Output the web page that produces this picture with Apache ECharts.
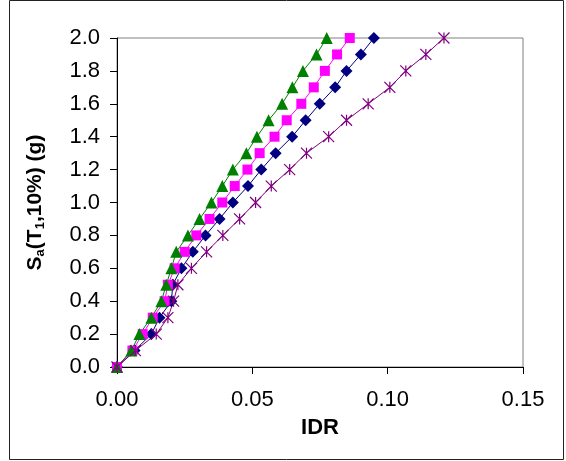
<!DOCTYPE html>
<html>
<head>
<meta charset="utf-8">
<script src="https://cdn.jsdelivr.net/npm/echarts@6/dist/echarts.min.js"></script>
<style>
html,body{margin:0;padding:0;background:#fff;}
#chart{width:566px;height:461px;}
</style>
</head>
<body>
<div id="chart"></div>
<script>
// Sa(T1,10%) levels (g)
var saLevels = [0.0,0.1,0.2,0.3,0.4,0.5,0.6,0.7,0.8,0.9,1.0,1.1,1.2,1.3,1.4,1.5,1.6,1.7,1.8,1.9,2.0];
// IDR values per series
var idrNavy = [0, 0.0065, 0.0127, 0.0157, 0.0201, 0.0206, 0.0238, 0.0280, 0.0327, 0.0379, 0.0428, 0.0484, 0.0533, 0.0586, 0.0647, 0.0697, 0.0749, 0.0806, 0.0848, 0.0901, 0.0949];
var idrMagenta = [0, 0.0057, 0.0095, 0.0132, 0.0176, 0.0188, 0.0213, 0.0250, 0.0293, 0.0342, 0.0389, 0.0435, 0.0482, 0.0527, 0.0582, 0.0627, 0.0681, 0.0727, 0.0768, 0.0813, 0.0860];
var idrGreen = [0, 0.0053, 0.0083, 0.0127, 0.0164, 0.0182, 0.0201, 0.0219, 0.0262, 0.0305, 0.0349, 0.0389, 0.0428, 0.0478, 0.0517, 0.0560, 0.0610, 0.0648, 0.0687, 0.0737, 0.0775];
var idrPurple = [0, 0.0068, 0.0145, 0.0188, 0.0209, 0.0225, 0.0275, 0.0331, 0.0391, 0.0453, 0.0512, 0.0570, 0.0638, 0.0700, 0.0782, 0.0848, 0.0928, 0.1008, 0.1067, 0.1141, 0.1208];
var xTickLabels = ['0.00','0.05','0.10','0.15'];
var yTickLabels = ['0.0','0.2','0.4','0.6','0.8','1.0','1.2','1.4','1.6','1.8','2.0'];

function pairs(xs){ return xs.map(function(v,i){ return [v, saLevels[i]]; }); }

var FONT = 'Liberation Sans, Arial, sans-serif';
var chart = echarts.init(document.getElementById('chart'), null, {renderer:'canvas'});

function mkSeries(name, xs, color, symbol, size, extra){
  var s = {
    name: name, type: 'line', data: pairs(xs),
    symbol: symbol, symbolSize: size, showAllSymbol: true,
    lineStyle: {color: color, width: 1},
    itemStyle: {color: color, borderWidth: 0, opacity: 1},
    animation: false, silent: true
  };
  if (extra) { for (var k in extra) s[k] = extra[k]; }
  return s;
}

chart.setOption({
  backgroundColor: '#fff',
  animation: false,
  grid: {left: 117, right: 43, top: 38, bottom: 94, show: true, borderColor: '#808080', borderWidth: 1, backgroundColor: 'transparent'},
  graphic: [{
    type: 'rect', shape: {x: 9.5, y: 0.5, width: 554, height: 459},
    style: {fill: 'none', stroke: '#222', lineWidth: 1}, silent: true, z: 100
  }],
  xAxis: {
    type: 'value', min: 0, max: 0.15, interval: 0.05,
    name: 'IDR', nameLocation: 'middle', nameGap: 50,
    nameTextStyle: {fontFamily: FONT, fontSize: 22, fontWeight: 'bold', color: '#000'},
    axisLine: {show: true, onZero: false, lineStyle: {color: '#000', width: 1}},
    axisTick: {show: true, inside: false, length: 7, lineStyle: {color: '#000'}},
    axisLabel: {fontFamily: FONT, fontSize: 22, color: '#000', margin: 22,
      formatter: function(v){ return xTickLabels[Math.round(v/0.05)]; }},
    splitLine: {show: false}
  },
  yAxis: {
    type: 'value', min: 0, max: 2.0, interval: 0.2,
    name: '{b|S}{s|a}{b|(T}{s|1}{b|,10%) (g)}',
    nameLocation: 'middle', nameGap: 70, nameRotate: 90,
    nameTextStyle: {
      fontFamily: FONT, fontSize: 21, fontWeight: 'bold', color: '#000',
      rich: {
        b: {fontFamily: FONT, fontSize: 21, fontWeight: 'bold', color: '#000', lineHeight: 24, verticalAlign: 'middle'},
        s: {fontFamily: FONT, fontSize: 13, fontWeight: 'bold', color: '#000', lineHeight: 13, verticalAlign: 'bottom'}
      }
    },
    axisLine: {show: true, onZero: false, lineStyle: {color: '#000', width: 1}},
    axisTick: {show: true, inside: false, length: 7, lineStyle: {color: '#000'}},
    axisLabel: {fontFamily: FONT, fontSize: 22, color: '#000', margin: 17,
      formatter: function(v){ return yTickLabels[Math.round(v/0.2)]; }},
    splitLine: {show: false}
  },
  series: [
    mkSeries('Series 1', idrNavy, '#000080', 'diamond', 12),
    mkSeries('Series 2', idrMagenta, '#FF00FF', 'rect', 10),
    mkSeries('Series 3', idrGreen, '#008000', 'triangle', 12),
    mkSeries('Series 4', idrPurple, '#800080', 'path://M0,0L10,10M10,0L0,10M5,0L5,10', 11, {
      itemStyle: {color: 'none', borderColor: '#800080', borderWidth: 1.2, opacity: 1}
    })
  ]
});
</script>
</body>
</html>
